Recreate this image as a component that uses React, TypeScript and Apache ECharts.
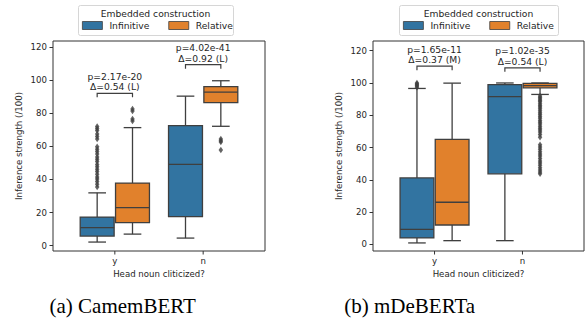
import React, { useEffect, useRef } from "react";
import * as echarts from "echarts";

// ---------- data ----------
const categories = ["y", "n"];
const hueNames = ["Infinitive", "Relative"];
const yTickValues = [0, 20, 40, 60, 80, 100, 120];
const legendTitle = "Embedded construction";
const xAxisTitle = "Head noun cliticized?";
const yAxisTitle = "Inference strength (/100)";
const captions = ["(a) CamemBERT", "(b) mDeBERTa"];

// per category: [whiskerLow, q1, median, q3, whiskerHigh]
const camInfStats = [
  [2.2, 5.8, 10.9, 17.3, 31.9],
  [4.6, 17.6, 49.1, 72.5, 90.3],
];
const camRelStats = [
  [7.0, 13.9, 23.0, 37.8, 71.3],
  [72.1, 86.4, 92.7, 96.1, 99.6],
];
const camInfOutliers = [
  [72, 70.8, 69.5, 67.5, 66, 64.5, 59.8, 58.2, 56.9, 55.3, 53.6, 52.2, 50.8, 49.1, 47.6, 46.2, 44.8, 43.1, 41.5, 40.2, 38.7, 37.1, 35.5],
  [],
];
const camRelOutliers = [
  [82.6, 81.4, 76.5, 75.3],
  [64.4, 63.4, 62.6, 57.8],
];
const camPTexts = ["p=2.17e-20", "p=4.02e-41"];
const camEffects = ["Δ=0.54 (L)", "Δ=0.92 (L)"];
const camBracketLevels = [92, 109.3];

const debInfStats = [
  [0.9, 4.0, 9.3, 41.2, 96.6],
  [2.3, 43.7, 91.6, 99.0, 100],
];
const debRelStats = [
  [2.3, 12.0, 26.1, 65.1, 99.9],
  [92.9, 97.0, 98.4, 99.7, 100],
];
const debInfOutliers = [[97.4, 98.1, 98.8, 99.4, 100.0], []];
const debRelOutliers = [
  [],
  [91.9, 91.0, 90.1, 89.2, 88.3, 87.1, 86.0, 85.1, 84.0, 82.8, 81.6, 80.4, 79.3, 78.1, 76.8, 75.7, 74.6, 73.2, 72.0, 70.9, 69.6, 68.1, 66.4, 61.7, 60.3, 58.9, 57.4, 56.0, 54.8, 53.2, 51.7, 50.4, 49.0, 47.5, 46.1, 44.9, 43.7],
];
const debPTexts = ["p=1.65e-11", "p=1.02e-35"];
const debEffects = ["Δ=0.37 (M)", "Δ=0.54 (L)"];
const debBracketLevels = [110.4, 109.4];

// ---------- styling ----------
const COLORS = ["#3274a1", "#e1812c"];
const LINE = "#3f3f3f";
const TEXT = "#262626";
const FONT = "DejaVu Sans";
const HUE_OFFSETS = [-0.2, 0.2];

const panels = [
  {
    left: 53, width: 212, yMin: -3.2, yMax: 123.6,
    stats: [camInfStats, camRelStats], outliers: [camInfOutliers, camRelOutliers],
    pTexts: camPTexts, effects: camEffects, levels: camBracketLevels,
    legendBox: { x: 78, w: 155 }, caption: captions[0], captionX: 122.7,
  },
  {
    left: 373, width: 211, yMin: -4.1, yMax: 126,
    stats: [debInfStats, debRelStats], outliers: [debInfOutliers, debRelOutliers],
    pTexts: debPTexts, effects: debEffects, levels: debBracketLevels,
    legendBox: { x: 399, w: 159 }, caption: captions[1], captionX: 409.7,
  },
];

function boxRenderer(offset: number, color: string) {
  return (params: any, api: any) => {
    const cx = api.value(0) + offset;
    const lo = api.coord([cx, api.value(1)]);
    const q1 = api.coord([cx, api.value(2)]);
    const md = api.coord([cx, api.value(3)]);
    const q3 = api.coord([cx, api.value(4)]);
    const hi = api.coord([cx, api.value(5)]);
    const bl = api.coord([cx - 0.2, 0])[0] + 0.7;
    const br = api.coord([cx + 0.2, 0])[0] - 0.7;
    const cl = api.coord([cx - 0.1, 0])[0];
    const cr = api.coord([cx + 0.1, 0])[0];
    const x = lo[0];
    const ls = { stroke: LINE, lineWidth: 1.3 };
    return {
      type: "group",
      children: [
        { type: "line", shape: { x1: x, y1: q1[1], x2: x, y2: lo[1] }, style: ls },
        { type: "line", shape: { x1: x, y1: q3[1], x2: x, y2: hi[1] }, style: ls },
        { type: "line", shape: { x1: cl, y1: lo[1], x2: cr, y2: lo[1] }, style: ls },
        { type: "line", shape: { x1: cl, y1: hi[1], x2: cr, y2: hi[1] }, style: ls },
        {
          type: "rect",
          shape: { x: bl, y: q3[1], width: br - bl, height: q1[1] - q3[1] },
          style: { fill: color, stroke: LINE, lineWidth: 1.3 },
        },
        { type: "line", shape: { x1: bl, y1: md[1], x2: br, y2: md[1] }, style: ls },
      ],
    };
  };
}

function bracketRenderer(pTexts: string[], effects: string[]) {
  return (params: any, api: any) => {
    const cat = api.value(0);
    const lvl = api.value(1);
    const a = api.coord([cat + HUE_OFFSETS[0], lvl]);
    const b = api.coord([cat + HUE_OFFSETS[1], lvl]);
    const mid = (a[0] + b[0]) / 2;
    const i = params.dataIndex;
    const ts = { fill: TEXT, fontSize: 9.2, fontFamily: FONT, align: "center", verticalAlign: "middle" };
    return {
      type: "group",
      children: [
        {
          type: "polyline",
          shape: { points: [[a[0], a[1] + 4], [a[0], a[1]], [b[0], b[1]], [b[0], b[1] + 4]] },
          style: { stroke: LINE, lineWidth: 1.2, fill: null },
        },
        { type: "text", x: mid, y: a[1] - 17, style: { ...ts, text: pTexts[i] } },
        { type: "text", x: mid, y: a[1] - 6.5, style: { ...ts, text: effects[i] } },
      ],
    };
  };
}

function xTickRenderer(yMin: number) {
  return (params: any, api: any) => {
    const p = api.coord([api.value(0), yMin]);
    return {
      type: "line",
      shape: { x1: p[0], y1: p[1], x2: p[0], y2: p[1] + 3.5 },
      style: { stroke: "#333", lineWidth: 1 },
    };
  };
}

export default function App() {
  const ref = useRef<HTMLDivElement>(null);
  useEffect(() => {
    if (!ref.current) return;
    const chart = echarts.init(ref.current, null, { renderer: "svg" });
    const grid: any[] = [];
    const xAxis: any[] = [];
    const yAxis: any[] = [];
    const series: any[] = [];
    const legend: any[] = [];
    const graphic: any[] = [];

    panels.forEach((p, pi) => {
      grid.push({
        left: p.left, top: 41, width: p.width, height: 210,
        show: true, borderColor: "#333", borderWidth: 1, backgroundColor: "transparent",
      });
      xAxis.push({
        type: "value", gridIndex: pi, min: -0.7, max: 1.7,
        axisLine: { show: false, onZero: false },
        axisTick: { show: false },
        axisLabel: {
          customValues: [0, 1], margin: 5, fontSize: 8.6, color: TEXT, fontFamily: FONT,
          formatter: (v: number) => categories[Math.round(v)] ?? "",
        },
        splitLine: { show: false },
        name: xAxisTitle, nameLocation: "middle", nameGap: 16,
        nameTextStyle: { fontSize: 8.6, color: TEXT, fontFamily: FONT },
      });
      yAxis.push({
        type: "value", gridIndex: pi, min: p.yMin, max: p.yMax,
        axisLine: { show: false, onZero: false },
        axisTick: { show: true, customValues: yTickValues, length: 3.5, lineStyle: { color: "#333" } },
        axisLabel: { customValues: yTickValues, margin: 6, fontSize: 8.6, color: TEXT, fontFamily: FONT },
        splitLine: { show: false },
        name: yAxisTitle, nameLocation: "middle", nameGap: 30,
        nameTextStyle: { fontSize: 8.6, color: TEXT, fontFamily: FONT },
      });
      series.push({
        type: "custom", name: "xticks", xAxisIndex: pi, yAxisIndex: pi,
        renderItem: xTickRenderer(p.yMin),
        encode: { x: 0 },
        data: categories.map((_, ci) => [ci]),
        clip: false, z: 1, silent: true,
      });
      hueNames.forEach((h, hi) => {
        series.push({
          type: "custom", name: h, xAxisIndex: pi, yAxisIndex: pi,
          itemStyle: { color: COLORS[hi] },
          renderItem: boxRenderer(HUE_OFFSETS[hi], COLORS[hi]),
          encode: { x: 0, y: [1, 2, 3, 4, 5] },
          data: p.stats[hi].map((s, ci) => [ci, ...s]),
          z: 2,
        });
        series.push({
          type: "scatter", name: h + " outliers", xAxisIndex: pi, yAxisIndex: pi,
          symbol: "diamond", symbolSize: [4.5, 6.5],
          itemStyle: { color: LINE },
          data: p.outliers[hi].flatMap((arr, ci) => arr.map((v) => [ci + HUE_OFFSETS[hi], v])),
          z: 3,
        });
      });
      series.push({
        type: "custom", name: "annotations", xAxisIndex: pi, yAxisIndex: pi,
        renderItem: bracketRenderer(p.pTexts, p.effects),
        encode: { x: 0, y: 1 },
        data: p.levels.map((l, ci) => [ci, l]),
        clip: false, z: 4,
      });
      legend.push({
        data: hueNames, left: p.legendBox.x - 1, top: 16,
        itemWidth: 20, itemHeight: 8, itemGap: 19, icon: "rect",
        itemStyle: { borderColor: LINE, borderWidth: 0.8 },
        textStyle: { fontSize: 9.2, color: TEXT, fontFamily: FONT, padding: [0, 0, 0, 2] },
        selectedMode: false,
      });
      graphic.push({
        type: "rect", left: p.legendBox.x, top: 5,
        shape: { width: p.legendBox.w, height: 30, r: 2 },
        style: { fill: "rgba(255,255,255,0.8)", stroke: "#d6d6d6", lineWidth: 1 },
        z: 0,
      });
      graphic.push({
        type: "text", x: p.legendBox.x + p.legendBox.w / 2, y: 13.5,
        style: { text: legendTitle, fill: TEXT, fontSize: 9.2, fontFamily: FONT, align: "center", verticalAlign: "middle" },
      });
      graphic.push({
        type: "text", x: p.captionX, y: 306,
        style: { text: p.caption, fill: "#000", fontSize: 21, fontFamily: "Liberation Serif", align: "center", verticalAlign: "middle" },
      });
    });

    chart.setOption({
      animation: false,
      backgroundColor: "#ffffff",
      grid, xAxis, yAxis, series, legend, graphic,
    });
    return () => chart.dispose();
  }, []);
  return (
    <div
      ref={ref}
      style={{ position: "fixed", left: 0, top: 0, width: 586, height: 322, background: "#fff" }}
    />
  );
}
